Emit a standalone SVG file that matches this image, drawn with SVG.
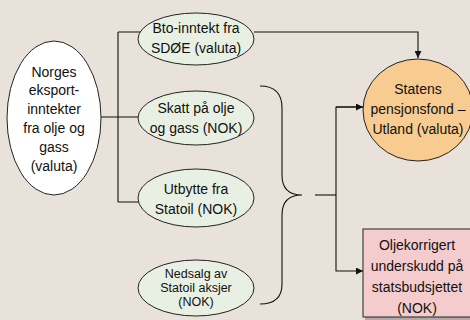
<svg xmlns="http://www.w3.org/2000/svg" width="470" height="320" viewBox="0 0 470 320">
<defs>
<marker id="arr" viewBox="0 0 10 10" refX="10" refY="5" markerWidth="7" markerHeight="7" orient="auto" markerUnits="userSpaceOnUse">
<path d="M0,0 L10,5 L0,10 z" fill="#111"/>
</marker>
<style>
text{font-family:"Liberation Sans",Arial,sans-serif;font-size:14px;fill:#111;text-anchor:middle}
.sm{font-size:12.5px}
.e{stroke:#222;stroke-width:1}
.g{fill:#E8F0E4}
.c{fill:none;stroke:#111;stroke-width:1.1}
</style>
</defs>
<rect width="470" height="320" fill="#E9E2DA"/>
<g id="connectors">
<path class="c" d="M100,117 H118 M118,32 V202 M118,32 H140 M118,117 H140 M118,202 H140"/>
<path class="c" d="M254,32 H418 V58" marker-end="url(#arr)"/>
<path class="c" d="M260,86 Q282,86 282,108 V175 Q282,195 302,195 Q282,195 282,215 V284 Q282,304 260,304"/>
<path class="c" d="M315,195 H336"/>
<path class="c" d="M363,107 H336 V271 H363" marker-end="url(#arr)"/>
<path class="c" d="M336,107 H363" marker-end="url(#arr)"/>
</g>
<g id="norges">
<ellipse class="e" cx="54" cy="118" rx="47" ry="77" fill="#fff"/>
<text x="54" y="77">Norges</text>
<text x="54" y="95">eksport-</text>
<text x="54" y="114">inntekter</text>
<text x="54" y="133">fra olje og</text>
<text x="54" y="152">gass</text>
<text x="54" y="171">(valuta)</text>
</g>
<g id="bto">
<ellipse class="e g" cx="196" cy="39" rx="58" ry="26"/>
<text x="196" y="33">Bto-inntekt fra</text>
<text x="196" y="53">SDØE (valuta)</text>
</g>
<g id="skatt">
<ellipse class="e g" cx="196" cy="118" rx="58" ry="27"/>
<text x="196" y="113">Skatt på olje</text>
<text x="196" y="133">og gass (NOK)</text>
</g>
<g id="utbytte">
<ellipse class="e g" cx="196" cy="198" rx="58" ry="29"/>
<text x="196" y="194">Utbytte fra</text>
<text x="196" y="214">Statoil (NOK)</text>
</g>
<g id="nedsalg">
<ellipse class="e g" cx="196" cy="288" rx="58" ry="28"/>
<text class="sm" x="196" y="278">Nedsalg av</text>
<text class="sm" x="196" y="292">Statoil aksjer</text>
<text class="sm" x="196" y="306">(NOK)</text>
</g>
<g id="statens">
<ellipse class="e" cx="418" cy="110" rx="55" ry="51" fill="#F8CB90"/>
<text x="418" y="94">Statens</text>
<text x="418" y="114">pensjonsfond –</text>
<text x="418" y="134">Utland (valuta)</text>
</g>
<g id="oljekorrigert">
<rect x="365" y="231" width="110" height="89" fill="#888" opacity="0.6"/>
<rect class="e" x="363" y="229" width="110" height="88" fill="#F5CCCE"/>
<text x="417" y="250">Oljekorrigert</text>
<text x="417" y="271">underskudd på</text>
<text x="417" y="292">statsbudsjettet</text>
<text x="417" y="313">(NOK)</text>
</g>
</svg>
